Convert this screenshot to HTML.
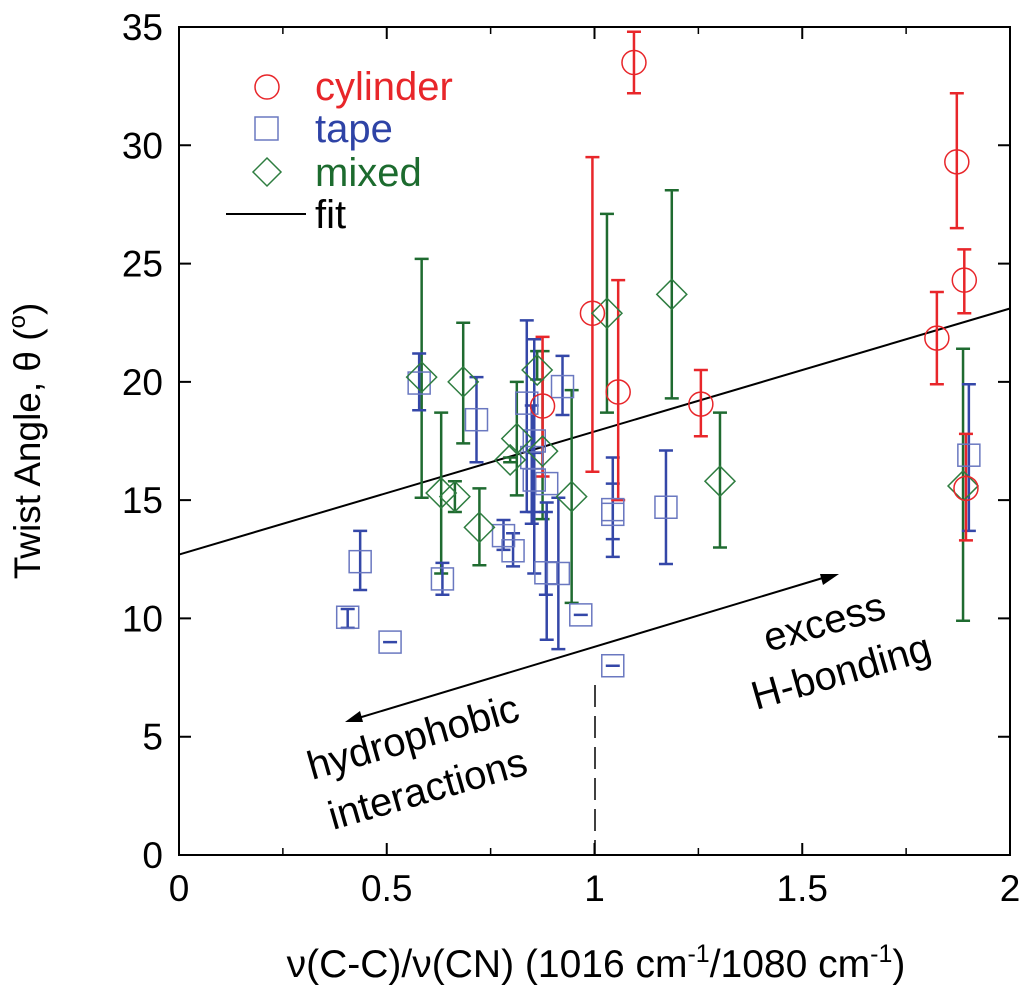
<!DOCTYPE html>
<html><head><meta charset="utf-8"><style>
html,body{margin:0;padding:0;background:#fff;width:1024px;height:993px;overflow:hidden}
svg text{font-family:"Liberation Sans",Arial,sans-serif}
</style></head><body>
<svg id="chart" width="1024" height="993" viewBox="0 0 1024 993">
<g id="ticks"></g>
<g id="marks"></g>
<g>
<circle cx="267" cy="87" r="12" fill="none" stroke="#e8262a" stroke-width="1.5"/>
<text x="315" y="100" font-size="40" fill="#e8262a">cylinder</text>
<rect x="255" y="117" width="23" height="23" fill="none" stroke="#6a78c0" stroke-width="1.5"/>
<text x="315" y="142" font-size="40" fill="#2e43a6">tape</text>
<polygon points="267,158 281,172 267,186 253,172" fill="none" stroke="#2e7d40" stroke-width="1.5"/>
<text x="315" y="186" font-size="40" fill="#1c6b2e">mixed</text>
<line x1="226" y1="214" x2="306" y2="214" stroke="#000" stroke-width="2"/>
<text x="315" y="228" font-size="40" fill="#000">fit</text>
</g>
<g>
<line x1="595" y1="685" x2="595" y2="855" stroke="#000" stroke-width="1.5" stroke-dasharray="22,9"/>
<line x1="355" y1="719" x2="826" y2="577" stroke="#000" stroke-width="2"/>
<polygon points="345,722 360,711 363,722" fill="#000"/>
<polygon points="839,574 823,585 820,574" fill="#000"/>
<text transform="translate(768,652) rotate(-16)" font-size="40">excess</text>
<text transform="translate(756,710) rotate(-16)" font-size="40">H-bonding</text>
<text transform="translate(312,780) rotate(-16)" font-size="40">hydrophobic</text>
<text transform="translate(333,830) rotate(-16)" font-size="40">interactions</text>
</g>
<text transform="translate(40,441) rotate(-90)" text-anchor="middle" font-size="37">Twist Angle, θ (<tspan font-size="24" dy="-15">o</tspan><tspan dy="15">)</tspan></text>
<text x="596" y="977" text-anchor="middle" font-size="39">ν(C-C)/ν(CN) (1016 cm<tspan font-size="25" dy="-15">-1</tspan><tspan dy="15">/1080 cm</tspan><tspan font-size="25" dy="-15">-1</tspan><tspan dy="15">)</tspan></text>
</svg>
<script>
const xTicks=[0,0.5,1,1.5,2];
const xTickLabels=["0","0.5","1","1.5","2"];
const yTicks=[0,5,10,15,20,25,30,35];
const yTickLabels=["0","5","10","15","20","25","30","35"];
const cylX=[1.095,1.872,1.89,1.824,1.894,0.995,1.057,1.256,0.875];
const cylY=[33.5,29.3,24.3,21.85,15.5,22.9,19.57,19.06,18.98];
const cylHi=[34.8,32.2,25.6,23.8,17.8,29.5,24.3,20.5,21.9];
const cylLo=[32.2,26.5,22.9,19.9,13.3,16.2,15.0,17.7,16.0];
const tapeX=[0.578,0.716,0.436,0.406,0.508,0.634,0.781,0.804,0.837,0.855,0.849,0.855,0.885,0.883,0.913,0.923,0.967,1.044,1.044,1.172,1.044,1.901];
const tapeY=[19.95,18.4,12.4,10.05,9.0,11.67,13.5,12.86,19.1,17.5,16.8,15.85,15.7,11.93,11.9,19.8,10.15,14.6,14.4,14.7,8.0,16.9];
const tapeHi=[21.2,20.2,13.7,10.4,9.0,12.35,14.16,13.6,22.6,21.8,19.0,17.0,14.9,14.5,15.1,21.1,10.15,16.8,15.7,17.1,8.0,19.9];
const tapeLo=[18.8,16.6,11.2,9.6,9.0,11.0,12.9,12.2,14.5,11.9,14.0,14.5,9.1,11.0,8.7,18.6,10.15,12.6,13.35,12.3,8.0,13.7];
const mixX=[0.584,0.684,0.631,0.664,0.723,0.797,0.813,0.862,0.875,0.945,1.03,1.186,1.302,1.887];
const mixY=[20.2,20.0,15.3,15.15,13.85,16.7,17.6,20.5,17.07,15.15,22.9,23.7,15.8,15.6];
const mixHi=[25.2,22.5,18.7,15.8,15.5,16.8,20.0,21.3,21.3,19.65,27.1,28.1,18.7,21.4];
const mixLo=[15.1,17.4,11.9,14.5,12.25,16.6,15.2,20.1,14.2,10.66,18.7,19.3,13.0,9.9];
const fitX=[0,2];
const fitY=[12.7,23.1];

const X0=179,X1=1010,Y0=855,Y1=27;
const sx=v=>X0+(v-0)/(2-0)*(X1-X0);
const sy=v=>Y0-(v-0)/(35-0)*(Y0-Y1);
const NS="http://www.w3.org/2000/svg";
function mk(tag,attrs,parent){const e=document.createElementNS(NS,tag);for(const k in attrs)e.setAttribute(k,attrs[k]);parent.appendChild(e);return e;}
const T=document.getElementById('ticks'),M=document.getElementById('marks');
const frame=mk('rect',{x:X0,y:Y1,width:X1-X0,height:Y0-Y1,fill:'none',stroke:'#000','stroke-width':2},T);


xTicks.forEach((v,i)=>{
 const x=sx(v);
 const t=mk('path',{d:`M${x},${Y0}v-12M${x},${Y1}v12`,stroke:'#000','stroke-width':2},T);
 
 
 if(i<xTicks.length-1){const xm=sx(v+0.25);const m=mk('path',{d:`M${xm},${Y0}v-7M${xm},${Y1}v7`,stroke:'#000','stroke-width':1.5},T);
 
 }
 const l=mk('text',{x:x,y:Y0+46,'text-anchor':'middle','font-size':37},T);l.textContent=xTickLabels[i];
 
 
});
yTicks.forEach((v,i)=>{
 const y=sy(v);
 const t=mk('path',{d:`M${X0},${y}h12M${X1},${y}h-12`,stroke:'#000','stroke-width':2},T);
 
 
 const l=mk('text',{x:X0-16,y:y+13,'text-anchor':'end','font-size':37},T);l.textContent=yTickLabels[i];
 
 
});
const fit=mk('line',{x1:sx(fitX[0]),y1:sy(fitY[0]),x2:sx(fitX[1]),y2:sy(fitY[1]),stroke:'#000','stroke-width':2},M);


function errs(xs,hi,lo,col){xs.forEach((v,i)=>{const x=sx(v),a=sy(hi[i]),b=sy(lo[i]);
 const e=mk('path',{d:`M${x},${a}V${b}M${x-7},${a}h14M${x-7},${b}h14`,stroke:col,'stroke-width':2.5,fill:'none'},M);
 
 });}
errs(mixX,mixHi,mixLo,'#1f6b30');
errs(tapeX,tapeHi,tapeLo,'#3447a8');
errs(cylX,cylHi,cylLo,'#e8262a');
tapeX.forEach((v,i)=>{const x=sx(v),y=sy(tapeY[i]);
 const r=mk('rect',{x:x-11,y:y-11,width:22,height:22,fill:'none',stroke:'#6a78c0','stroke-width':1.5},M);
 
 });
mixX.forEach((v,i)=>{const x=sx(v),y=sy(mixY[i]);
 const p=mk('polygon',{points:`${x},${y-15} ${x+15},${y} ${x},${y+15} ${x-15},${y}`,fill:'none',stroke:'#2e7d40','stroke-width':1.5},M);
 
 });
cylX.forEach((v,i)=>{const c=mk('circle',{cx:sx(v),cy:sy(cylY[i]),r:12,fill:'none',stroke:'#e8262a','stroke-width':1.5},M);
 
 });
</script>
</body></html>
